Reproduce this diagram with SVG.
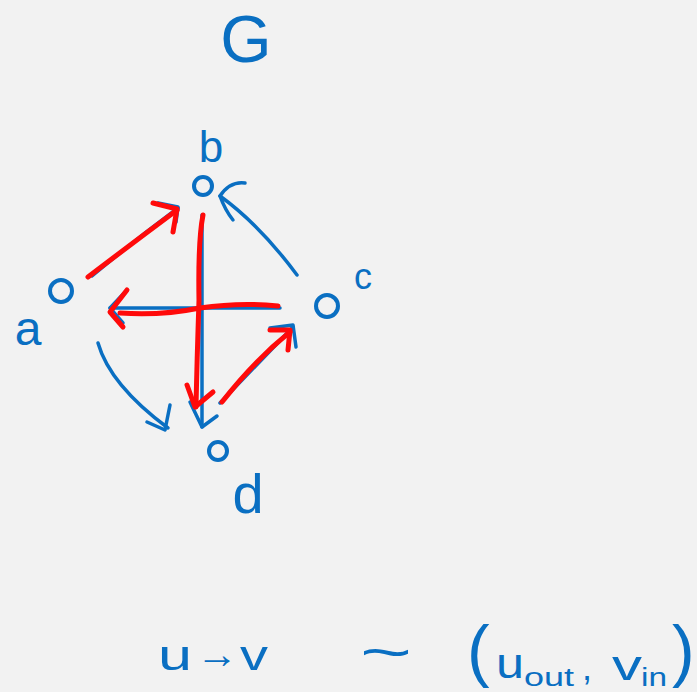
<svg xmlns="http://www.w3.org/2000/svg" width="697" height="692" viewBox="0 0 697 692">
<style>
.bg{fill:#f2f2f2}
.lbl{font-family:"Liberation Sans","DejaVu Sans",sans-serif;fill:#0a6fc2}
.node{fill:none;stroke:#0a6fc2;stroke-width:4}
.b{fill:none;stroke:#0a6fc2;stroke-width:3.5;stroke-linecap:round;stroke-linejoin:round}
.r{fill:none;stroke:#ff0a0a;stroke-width:5;stroke-linecap:round;stroke-linejoin:round}
</style>
<rect class="bg" x="0" y="0" width="697" height="692"/>
<text class="lbl" x="246" y="62" font-size="66" text-anchor="middle">G</text>
<g id="node-b">
<circle class="node" cx="203" cy="186" r="9"/>
<text class="lbl" x="211" y="162" font-size="44" text-anchor="middle">b</text>
</g>
<g id="node-a">
<circle class="node" cx="61" cy="291" r="11"/>
<text class="lbl" x="28" y="345" font-size="48" text-anchor="middle">a</text>
</g>
<g id="node-c">
<circle class="node" cx="327" cy="306" r="11"/>
<text class="lbl" x="363" y="289" font-size="36" text-anchor="middle">c</text>
</g>
<g id="node-d">
<circle class="node" cx="218" cy="451" r="9"/>
<text class="lbl" x="248" y="513" font-size="56" text-anchor="middle">d</text>
</g>
<g id="connectors">
<path class="b" d="M92 276 Q135 240 178 208"/>
<path class="b" d="M158 203 L178 207 L176 222"/>
<path class="b" d="M297 275 Q260 225 220 196"/>
<path class="b" d="M245 183 Q230 181 220 196 M220 196 Q225 210 233 220"/>
<path class="b" d="M202 215 L202 427"/>
<path class="b" d="M190 402 L202 427 L217 416"/>
<path class="b" d="M280 308 L110 308"/>
<path class="b" d="M127 290 L110 308 L123 323"/>
<path class="b" d="M98 343 Q110 385 168 428"/>
<path class="b" d="M147 422 L165 430 L170 405"/>
<path class="b" d="M220 403 L293 327"/>
<path class="b" d="M270 328 L293 325 L296 347"/>
<path class="r" d="M88 277 Q130 245 177 210"/>
<path class="r" d="M153 203 L177 209 L173 232"/>
<path class="r" d="M203 215 Q198 240 199 300 Q197 360 196 407"/>
<path class="r" d="M187 385 L195 407 L213 392"/>
<path class="r" d="M278 306 Q240 302 200 308 Q160 316 120 313"/>
<path class="r" d="M127 290 L110 312 L123 327"/>
<path class="r" d="M222 402 Q255 360 290 332"/>
<path class="r" d="M270 330 L290 330 L288 350"/>
</g>
<g id="formula">
<text class="lbl" x="158" y="670" font-size="42" textLength="34" lengthAdjust="spacingAndGlyphs">u</text>
<text class="lbl" x="196" y="668" font-size="40" textLength="42" lengthAdjust="spacingAndGlyphs">→</text>
<text class="lbl" x="240" y="670" font-size="42" textLength="28" lengthAdjust="spacingAndGlyphs">v</text>
<text class="lbl" x="360" y="671" font-size="56" textLength="52" lengthAdjust="spacingAndGlyphs">~</text>
<text class="lbl" x="467" y="674" font-size="68">(</text>
<text class="lbl" x="496" y="678" font-size="42" textLength="28" lengthAdjust="spacingAndGlyphs">u</text>
<text class="lbl" x="524" y="686" font-size="26" textLength="50" lengthAdjust="spacingAndGlyphs">out</text>
<text class="lbl" x="582" y="680" font-size="36">,</text>
<text class="lbl" x="612" y="680" font-size="42" textLength="30" lengthAdjust="spacingAndGlyphs">v</text>
<text class="lbl" x="641" y="686" font-size="26" textLength="26" lengthAdjust="spacingAndGlyphs">in</text>
<text class="lbl" x="672" y="674" font-size="68">)</text>
</g>
</svg>
